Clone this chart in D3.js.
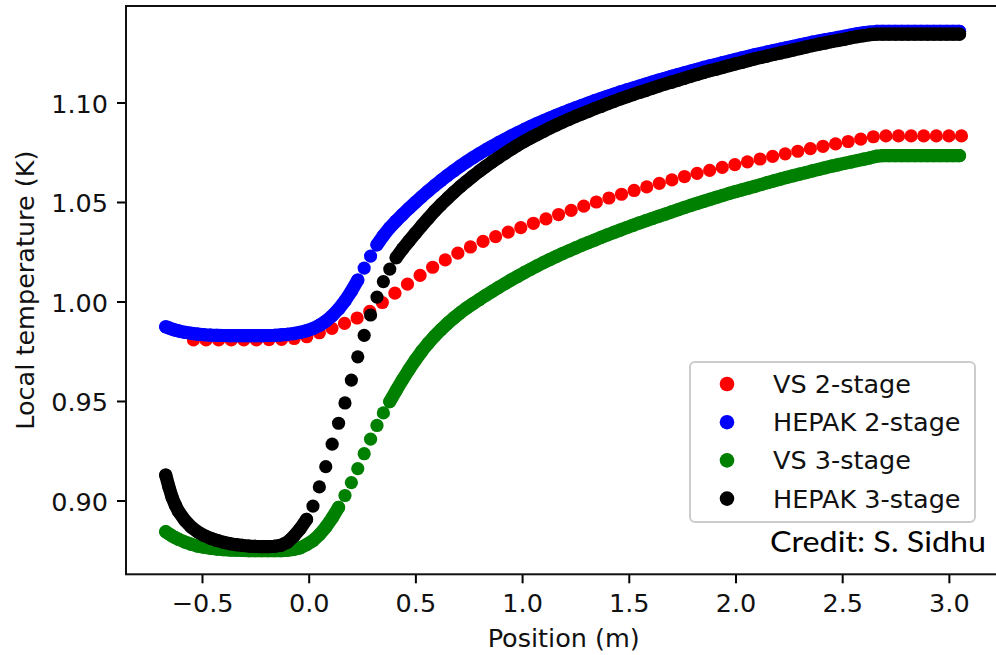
<!DOCTYPE html>
<html>
<head>
<meta charset="utf-8">
<script src="https://cdn.jsdelivr.net/npm/d3@7"></script>
<style>
  body { margin: 0; background: #fff; }
  svg { display: block; }
</style>
</head>
<body>
<div id="graph"></div>
<script>
var w = 996
var h = 655

// positions (m) of the dense HEPAK / VS 3-stage points
var positions = [-0.67,-0.655,-0.64,-0.625,-0.61,-0.58,-0.55,-0.52,-0.49,-0.46,-0.43,-0.40,-0.37,-0.34,-0.31,-0.28,-0.25,-0.22,-0.19,-0.16,-0.13,-0.10,-0.07,-0.04,-0.01,
  0.02,0.05,0.08,0.11,0.14,0.17,0.20,0.23,0.26,0.29,0.32,0.35,0.38,0.41,0.44,0.47,0.50,0.53,0.56,0.59,0.62,0.65,0.68,0.71,0.74,0.77,0.80,0.83,0.86,0.89,0.92,0.95,0.98,
  1.01,1.04,1.07,1.10,1.13,1.16,1.19,1.22,1.25,1.28,1.31,1.34,1.37,1.40,1.43,1.46,1.49,1.52,1.55,1.58,1.61,1.64,1.67,1.70,1.73,1.76,1.79,1.82,1.85,1.88,1.91,1.94,1.97,
  2.00,2.03,2.06,2.09,2.12,2.15,2.18,2.21,2.24,2.27,2.30,2.33,2.36,2.39,2.42,2.45,2.48,2.51,2.54,2.57,2.60,2.63,2.66,2.69,2.72,2.75,2.78,2.81,2.84,2.87,2.90,2.93,2.96,2.99,3.02,3.05]

// VS 2-stage is sampled more coarsely
var vs2Positions = [-0.540,-0.481,-0.422,-0.363,-0.304,-0.245,-0.186,-0.127,-0.068,-0.009,0.050,0.109,0.168,0.227,0.286,0.345,0.404,0.463,0.522,0.581,0.640,0.699,0.758,0.817,0.876,
  0.935,0.994,1.053,1.112,1.171,1.230,1.289,1.348,1.407,1.466,1.525,1.584,1.643,1.702,1.761,1.820,1.879,1.938,1.997,2.056,2.115,2.174,2.233,2.292,2.351,2.410,2.469,2.528,
  2.587,2.646,2.705,2.764,2.823,2.882,2.941,3.000,3.059]

var vs2 = [0.9807,0.9807,0.9807,0.9807,0.9807,0.9807,0.9808,0.9810,0.9814,0.9823,0.9843,0.9865,0.9890,0.9917,0.9950,0.9995,1.0042,1.0087,1.0131,1.0172,1.0209,1.0243,1.0274,1.0302,1.0326,
  1.0349,1.0371,1.0393,1.0415,1.0437,1.0458,1.0479,1.0500,1.0520,1.0539,1.0558,1.0576,1.0594,1.0611,1.0628,1.0644,1.0659,1.0674,1.0688,1.0702,1.0716,1.0729,1.0742,1.0755,
  1.0768,1.0780,1.0792,1.0804,1.0816,1.0828,1.0832,1.0832,1.0832,1.0832,1.0832,1.0832,1.0832]

var hepak2 = [0.9873,0.9867,0.9861,0.9856,0.9852,0.9845,0.9840,0.9836,0.9833,0.9831,0.9830,0.9829,0.9828,0.9828,0.9828,0.9828,0.9828,0.9828,0.9829,0.9830,0.9832,0.9835,0.9839,0.9845,0.9853,
  0.9864,0.9880,0.9901,0.9928,0.9962,1.0003,1.0052,1.0108,1.0168,1.0228,1.0285,1.0331,1.0371,1.0405,1.0437,1.0468,1.0498,1.0527,1.0555,1.0582,1.0608,1.0633,1.0657,1.0680,
  1.0702,1.0723,1.0743,1.0762,1.0780,1.0798,1.0815,1.0832,1.0848,1.0864,1.0879,1.0894,1.0908,1.0922,1.0935,1.0948,1.0961,1.0973,1.0985,1.0997,1.1009,1.1020,1.1031,1.1042,
  1.1053,1.1063,1.1073,1.1083,1.1093,1.1103,1.1113,1.1122,1.1131,1.1140,1.1149,1.1158,1.1167,1.1176,1.1184,1.1192,1.1200,1.1208,1.1216,1.1224,1.1232,1.1240,1.1247,1.1254,
  1.1261,1.1268,1.1275,1.1282,1.1289,1.1296,1.1303,1.1309,1.1315,1.1321,1.1327,1.1333,1.1339,1.1345,1.1350,1.1354,1.1357,1.1357,1.1357,1.1357,1.1357,1.1357,1.1357,1.1357,
  1.1357,1.1357,1.1357,1.1357,1.1357,1.1357]

var vs3 = [0.8843,0.8832,0.8822,0.8813,0.8805,0.8791,0.8780,0.8771,0.8765,0.8760,0.8756,0.8753,0.8751,0.8750,0.8749,0.8748,0.8748,0.8748,0.8748,0.8748,0.8748,0.8750,0.8754,0.8762,0.8778,
  0.8798,0.8828,0.8866,0.8912,0.8965,0.9025,0.9090,0.9160,0.9235,0.9308,0.9377,0.9440,0.9497,0.9553,0.9607,0.9658,0.9706,0.9750,0.9790,0.9826,0.9859,0.9889,0.9917,0.9943,
  0.9967,0.9989,1.0010,1.0031,1.0051,1.0071,1.0090,1.0109,1.0127,1.0145,1.0162,1.0179,1.0195,1.0211,1.0226,1.0241,1.0255,1.0269,1.0283,1.0296,1.0309,1.0322,1.0335,1.0347,
  1.0359,1.0371,1.0383,1.0395,1.0406,1.0417,1.0428,1.0439,1.0450,1.0461,1.0472,1.0483,1.0493,1.0503,1.0513,1.0523,1.0533,1.0543,1.0552,1.0561,1.0570,1.0579,1.0588,1.0597,
  1.0606,1.0615,1.0624,1.0632,1.0640,1.0648,1.0656,1.0664,1.0672,1.0680,1.0687,1.0694,1.0701,1.0708,1.0715,1.0722,1.0730,1.0733,1.0733,1.0733,1.0733,1.0733,1.0733,1.0733,
  1.0733,1.0733,1.0733,1.0733,1.0733,1.0733]

var hepak3 = [0.9128,0.9068,0.9015,0.8977,0.8945,0.8900,0.8866,0.8842,0.8824,0.8810,0.8799,0.8790,0.8783,0.8778,0.8774,0.8771,0.8769,0.8768,0.8768,0.8770,0.8775,0.8790,0.8820,0.8858,0.8905,
  0.8972,0.9068,0.9170,0.9283,0.9388,0.9490,0.9605,0.9722,0.9830,0.9932,1.0022,1.0100,1.0163,1.0220,1.0264,1.0304,1.0343,1.0381,1.0418,1.0454,1.0487,1.0518,1.0548,1.0577,
  1.0604,1.0630,1.0655,1.0679,1.0702,1.0724,1.0745,1.0766,1.0786,1.0805,1.0822,1.0839,1.0855,1.0872,1.0887,1.0902,1.0916,1.0930,1.0943,1.0956,1.0969,1.0981,1.0994,1.1006,
  1.1018,1.1029,1.1040,1.1051,1.1061,1.1072,1.1083,1.1093,1.1102,1.1112,1.1122,1.1132,1.1141,1.1151,1.1160,1.1168,1.1177,1.1185,1.1194,1.1202,1.1211,1.1219,1.1227,1.1234,
  1.1242,1.1249,1.1256,1.1264,1.1271,1.1279,1.1286,1.1293,1.1299,1.1306,1.1312,1.1318,1.1325,1.1331,1.1336,1.1341,1.1344,1.1344,1.1344,1.1344,1.1344,1.1344,1.1344,1.1344,
  1.1344,1.1344,1.1344,1.1344,1.1344,1.1344]

var seriesNames = ["VS 2-stage", "HEPAK 2-stage", "VS 3-stage", "HEPAK 3-stage"]
var seriesColors = ["red", "blue", "green", "black"]
var xTicks = [-0.5, 0.0, 0.5, 1.0, 1.5, 2.0, 2.5, 3.0]
var yTicks = [0.90, 0.95, 1.00, 1.05, 1.10]

var series = [
  { pos: vs2Positions, val: vs2, dense: false },
  { pos: positions, val: hepak2, dense: true },
  { pos: positions, val: vs3, dense: true },
  { pos: positions, val: hepak3, dense: true }
]

var font = "'DejaVu Sans', sans-serif"
var fs = 25.5
var dotR = 6.6

// plot area (right spine falls just past the picture)
var plotL = 126, plotR = 1001.4, plotT = 6, plotB = 574.3

var x = d3.scaleLinear().domain([-0.8561, 3.2461]).range([plotL, plotR])
var y = d3.scaleLinear().domain([0.8629, 1.1485]).range([plotB, plotT])

var svg = d3.select("#graph").append("svg")
  .attr("width", w)
  .attr("height", h)
  .style("font-family", font)

// soften the dot edges a little, the reference is a scaled-up raster
svg.append("defs").append("filter")
  .attr("id", "soft")
  .append("feGaussianBlur")
  .attr("stdDeviation", 0.7)

// the dots, in plotting order
series.forEach(function (s, i) {
  var g = svg.append("g").attr("filter", "url(#soft)")
  var pts = s.val.map(function (d, j) { return [x(s.pos[j]), y(d)] })

  // dense series: where neighbouring dots overlap, fill the small notches between them
  if (s.dense) {
    var d = ""
    for (var j = 1; j < pts.length; j++) {
      var dx = pts[j][0] - pts[j - 1][0], dy = pts[j][1] - pts[j - 1][1]
      if (Math.sqrt(dx * dx + dy * dy) < 13) {
        d += "M" + pts[j - 1][0] + "," + pts[j - 1][1] + "L" + pts[j][0] + "," + pts[j][1]
      }
    }
    g.append("path")
      .attr("d", d)
      .attr("fill", "none")
      .attr("stroke", seriesColors[i])
      .attr("stroke-width", 2 * dotR)
      .attr("stroke-linecap", "round")
  }

  g.selectAll("circle")
    .data(pts)
    .enter().append("circle")
    .attr("cx", function (p) { return p[0] })
    .attr("cy", function (p) { return p[1] })
    .attr("r", dotR)
    .attr("fill", seriesColors[i])
})

// axes
var xAxis = svg.append("g")
  .attr("transform", "translate(0," + plotB + ")")
  .call(d3.axisBottom(x).tickValues(xTicks).tickFormat(d3.format(".1f")).tickSize(9).tickPadding(8))
var yAxis = svg.append("g")
  .attr("transform", "translate(" + plotL + ",0)")
  .call(d3.axisLeft(y).tickValues(yTicks).tickFormat(d3.format(".2f")).tickSize(9).tickPadding(9))

;[xAxis, yAxis].forEach(function (a) {
  a.select(".domain").remove()
  a.selectAll(".tick line").attr("stroke", "#000").attr("stroke-width", 2)
  a.selectAll(".tick text").attr("fill", "#111").style("font-size", fs + "px").style("font-family", font)
})
xAxis.selectAll(".tick text").attr("dy", null).attr("y", 38)
yAxis.selectAll(".tick text").attr("dy", null).attr("y", 10)

// frame
svg.append("rect")
  .attr("x", plotL)
  .attr("y", plotT)
  .attr("width", plotR - plotL)
  .attr("height", plotB - plotT)
  .attr("fill", "none")
  .attr("stroke", "#111")
  .attr("stroke-width", 2)

// axis labels
svg.append("text")
  .attr("x", (plotL + plotR) / 2)
  .attr("y", 647)
  .attr("text-anchor", "middle")
  .attr("fill", "#111")
  .style("font-size", fs + "px")
  .text("Position (m)")

svg.append("text")
  .attr("transform", "translate(34," + (plotT + plotB) / 2 + ") rotate(-90)")
  .attr("text-anchor", "middle")
  .attr("fill", "#111")
  .style("font-size", fs + "px")
  .text("Local temperature (K)")

// legend
var legend = svg.append("g")
legend.append("rect")
  .attr("x", 690)
  .attr("y", 362)
  .attr("width", 285)
  .attr("height", 160)
  .attr("rx", 5)
  .attr("fill", "#fff")
  .attr("fill-opacity", 0.8)
  .attr("stroke", "#cccccc")
  .attr("stroke-width", 2)

seriesNames.forEach(function (name, i) {
  var cy = 384 + i * 38.2
  legend.append("circle")
    .attr("cx", 727)
    .attr("cy", cy)
    .attr("r", 7.3)
    .attr("fill", seriesColors[i])
  legend.append("text")
    .attr("x", 773)
    .attr("y", cy + 9)
    .attr("fill", "#111")
    .style("font-size", fs + "px")
    .text(name)
})

// credit
svg.append("text")
  .attr("x", 770)
  .attr("y", 552)
  .attr("textLength", 216)
  .attr("lengthAdjust", "spacingAndGlyphs")
  .style("font-family", "Lato, 'Open Sans', sans-serif")
  .style("font-size", "29px")
  .text("Credit: S. Sidhu")
</script>
</body>
</html>
